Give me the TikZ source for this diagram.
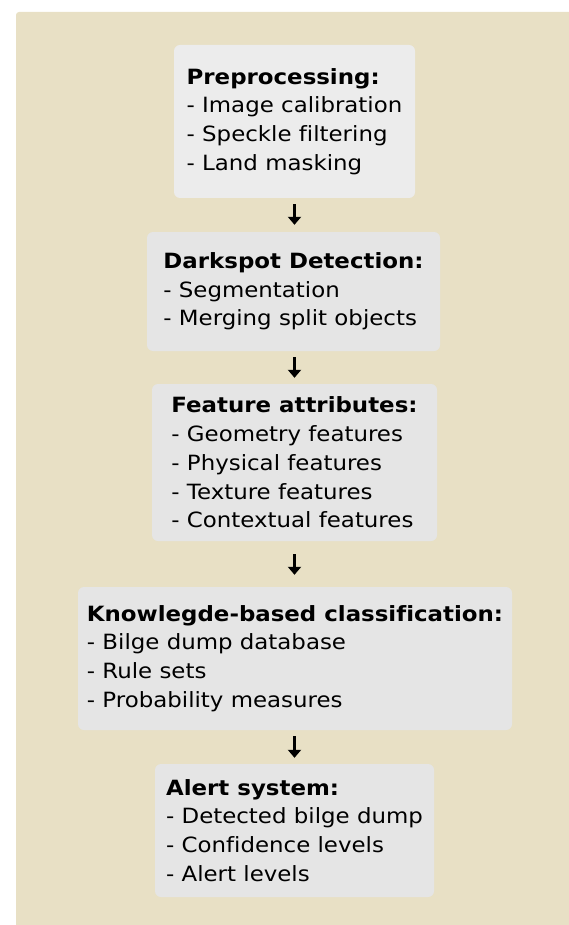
\documentclass[tikz,border=0pt]{standalone}
\usepackage{fontspec}
\setmainfont{DejaVu Sans}[FakeStretch=1.09, Ligatures=NoCommon]
\usetikzlibrary{arrows.meta}
\definecolor{bgbeige}{RGB}{232,224,197}
\definecolor{boxlight}{RGB}{236,236,236}
\definecolor{boxgray}{RGB}{229,229,229}
\tikzset{
  stepbox/.style={fill=boxgray, draw=none, rounded corners=6pt, align=left,
    inner sep=0pt, font=\fontsize{21}{28.7}\selectfont, text=black},
  flowarrow/.style={line width=3.3pt, -{Triangle[width=13pt,length=8pt]}}
}
\begin{document}
\begin{tikzpicture}[x=1pt,y=-1pt]
\useasboundingbox (0,0) rectangle (568,925);
\fill[bgbeige, rounded corners=3pt] (16,12) rectangle (574,931);
\node[stepbox, fill=boxlight, minimum width=241pt, minimum height=153pt] (b1) at (294.5,121.5)
  {\textbf{Preprocessing:}\\- Image calibration\\- Speckle filtering\\- Land masking};
\node[stepbox, minimum width=293pt, minimum height=119pt] (b2) at (293.5,291.5)
  {\textbf{Darkspot Detection:}\\- Segmentation\\- Merging split objects};
\node[stepbox, minimum width=285pt, minimum height=157pt] (b3) at (294.5,462.5)
  {\textbf{Feature attributes:}\\- Geometry features\\- Physical features\\- Texture features\\- Contextual features};
\node[stepbox, minimum width=434pt, minimum height=143pt] (b4) at (295,658.5)
  {\textbf{Knowlegde-based classification:}\\- Bilge dump database\\- Rule sets\\- Probability measures};
\node[stepbox, minimum width=279pt, minimum height=133pt] (b5) at (294.5,830.5)
  {\textbf{Alert system:}\\- Detected bilge dump\\- Confidence levels\\- Alert levels};
\draw[flowarrow, shorten <=6pt, shorten >=7pt] (b1.south) -- (b1.south |- b2.north);
\draw[flowarrow, shorten <=6pt, shorten >=6pt] (b3.north |- b2.south) -- (b3.north);
\draw[flowarrow, shorten <=13pt, shorten >=12pt] (b3.south) -- (b3.south |- b4.north);
\draw[flowarrow, shorten <=6pt, shorten >=6pt] (b5.north |- b4.south) -- (b5.north);
\end{tikzpicture}
\end{document}
